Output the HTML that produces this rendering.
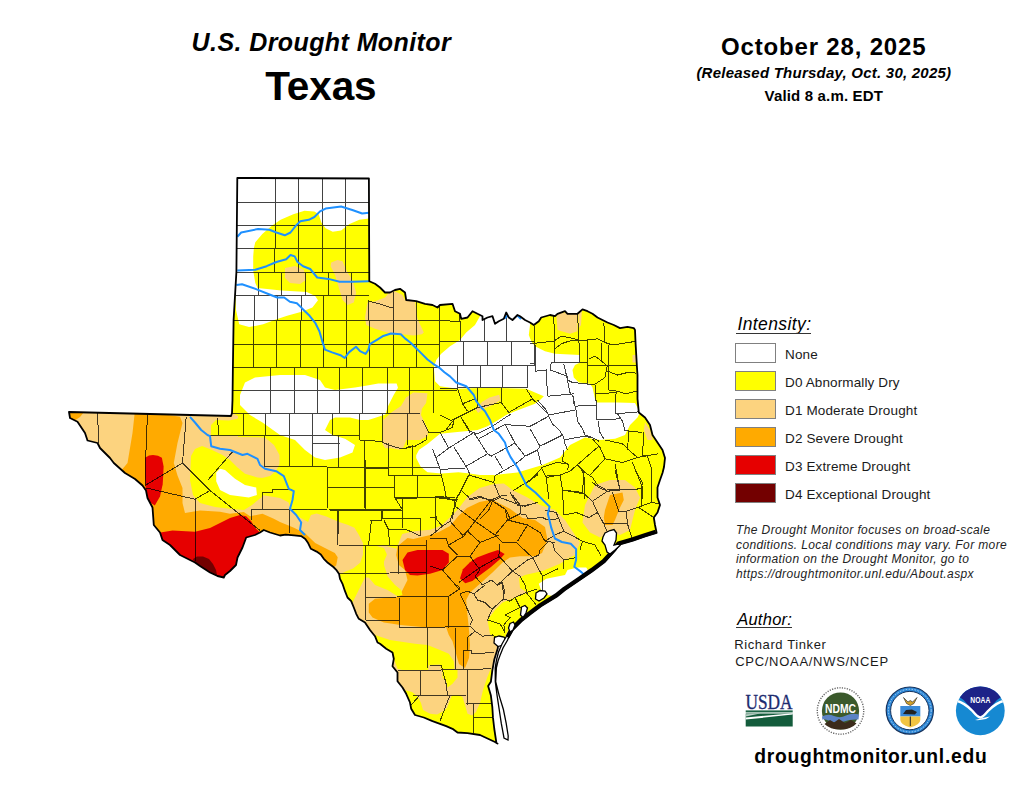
<!DOCTYPE html>
<html><head><meta charset="utf-8">
<style>
html,body{margin:0;padding:0;background:#fff;}
body{width:1024px;height:791px;position:relative;overflow:hidden;font-family:"Liberation Sans",Arial,sans-serif;color:#000;}
.t{position:absolute;white-space:nowrap;line-height:1;}
#h1{left:191.60px;top:30px;font-size:25px;font-weight:bold;font-style:italic;letter-spacing:0.41px;}
#h2{left:265.20px;top:65.5px;font-size:40.5px;font-weight:bold;letter-spacing:-0.10px;}
#d1{left:721.00px;top:34.5px;font-size:24px;font-weight:bold;letter-spacing:0.83px;}
#d2{left:696.40px;top:65.4px;font-size:15px;font-weight:bold;font-style:italic;letter-spacing:0.23px;}
#d3{left:764.60px;top:87.6px;font-size:15px;font-weight:bold;letter-spacing:0.16px;}
.lg{position:absolute;left:735px;width:39px;height:18px;border:1px solid #808080;}
.ll{position:absolute;left:785.00px;font-size:13.5px;color:#1a1a1a;letter-spacing:0.13px;}
#int{left:737.40px;top:315.5px;font-size:17.5px;font-style:italic;letter-spacing:0.40px;}
#int::after,#auth::after{content:"";position:absolute;left:-1px;right:0;height:1.4px;background:#333;}
#int::after{top:17.5px;}
#auth::after{top:15.8px;}
#auth{left:737.20px;top:610.9px;font-size:16.5px;font-style:italic;letter-spacing:0.25px;}
.ds{left:736.00px;font-size:12px;font-style:italic;color:#222;}
#rt{left:734.20px;top:637.5px;font-size:13px;color:#1a1a1a;letter-spacing:0.60px;}
#cpc{left:735.20px;top:655.4px;font-size:13px;color:#1a1a1a;letter-spacing:0.71px;}
#url{left:754.20px;top:746.8px;font-size:19.3px;font-weight:bold;letter-spacing:0.72px;}
</style></head><body>
<div class="t" id="h1">U.S. Drought Monitor</div>
<div class="t" id="h2">Texas</div>
<div class="t" id="d1">October 28, 2025</div>
<div class="t" id="d2">(Released Thursday, Oct. 30, 2025)</div>
<div class="t" id="d3">Valid 8 a.m. EDT</div>
<svg width="1024" height="791" viewBox="0 0 1024 791" style="position:absolute;left:0;top:0">
<defs><clipPath id="tx"><polygon points="237.3,177.9 368.9,178.5 369.3,281.2 375.0,283.8 380.0,287.5 385.0,292.5 390.0,292.5 395.0,290.0 400.0,288.8 405.0,292.5 406.2,300.0 416.2,301.2 425.0,303.8 432.5,305.0 437.5,307.5 440.0,305.0 452.5,303.8 455.0,311.2 460.0,313.8 461.2,318.8 467.5,317.5 472.5,311.2 477.5,313.8 482.5,316.2 482.5,320.0 487.5,317.5 492.5,316.2 495.0,323.8 498.8,321.2 503.8,318.8 506.2,312.5 508.8,317.5 512.5,320.0 517.5,315.0 520.0,316.2 525.0,320.0 530.0,322.5 533.8,325.0 538.8,321.2 541.2,317.5 550.0,315.0 555.0,316.2 557.5,313.8 565.0,311.2 567.5,313.8 577.5,313.8 582.5,309.4 587.5,311.2 592.5,313.8 597.5,317.5 602.5,320.0 607.5,322.5 613.8,325.0 620.0,328.1 627.5,326.9 633.8,328.1 635.0,330.0 635.6,343.8 636.9,366.2 637.5,375.0 637.5,398.9 638.8,412.5 645.0,417.5 650.0,425.0 652.5,435.0 657.5,442.5 662.5,450.0 665.0,458.0 664.0,467.0 662.5,473.0 660.0,480.0 657.5,487.5 657.5,497.5 660.0,505.0 657.5,512.5 653.8,517.5 655.0,525.0 656.6,532.8 645.0,536.5 633.0,540.6 619.2,544.6 615.2,550.5 604.4,562.3 592.5,571.2 579.7,580.1 565.0,590.0 557.0,596.5 541.0,606.3 530.4,614.2 521.5,621.3 512.7,630.2 508.3,638.1 502.5,640.5 498.0,645.0 497.8,648.3 494.3,659.5 492.3,670.6 490.9,681.7 488.1,685.9 490.9,695.6 492.3,706.8 493.0,717.9 494.3,729.0 496.4,742.9 497.5,743.5 495.0,742.0 487.5,738.5 480.0,735.0 467.5,733.1 457.5,732.5 452.5,728.8 446.2,726.2 440.0,723.8 432.5,721.2 423.8,717.5 415.0,715.0 411.2,708.8 410.0,702.5 406.2,693.8 402.5,687.5 397.5,681.2 397.5,672.5 392.5,666.2 393.8,658.8 392.5,652.5 386.2,648.8 380.0,643.8 377.5,642.5 375.0,636.2 370.0,630.0 365.0,622.5 358.8,618.8 356.2,613.8 353.8,607.5 351.2,601.2 347.5,597.5 345.0,591.2 342.5,583.8 340.0,578.8 339.1,574.1 336.2,569.8 333.4,567.0 327.8,562.8 323.6,558.6 320.8,554.4 316.6,551.6 310.9,548.8 308.1,543.1 305.3,538.9 301.1,536.1 294.1,535.4 285.6,534.7 280.0,535.5 270.0,532.5 263.8,530.0 260.0,532.5 255.0,535.0 246.2,537.5 242.5,547.5 237.5,557.5 236.0,565.0 230.0,571.0 225.0,575.0 223.8,577.5 217.5,576.0 210.0,572.5 200.0,566.0 195.0,562.5 190.0,560.0 180.0,555.0 175.0,550.0 170.0,545.0 162.5,540.0 160.0,532.5 153.8,525.0 152.5,507.5 147.5,498.0 146.0,490.5 142.5,485.5 135.0,479.0 125.0,473.0 113.8,463.0 110.0,458.0 100.0,448.0 97.5,443.0 87.5,440.5 85.0,433.0 77.5,421.8 70.0,418.0 69.0,412.0 150.0,414.0 231.0,416.0 232.0,413.0 232.5,400.0 232.9,367.0 233.6,320.0 235.0,296.0 236.4,272.0 237.3,177.9"/></clipPath></defs>
<polygon points="237.3,177.9 368.9,178.5 369.3,281.2 375.0,283.8 380.0,287.5 385.0,292.5 390.0,292.5 395.0,290.0 400.0,288.8 405.0,292.5 406.2,300.0 416.2,301.2 425.0,303.8 432.5,305.0 437.5,307.5 440.0,305.0 452.5,303.8 455.0,311.2 460.0,313.8 461.2,318.8 467.5,317.5 472.5,311.2 477.5,313.8 482.5,316.2 482.5,320.0 487.5,317.5 492.5,316.2 495.0,323.8 498.8,321.2 503.8,318.8 506.2,312.5 508.8,317.5 512.5,320.0 517.5,315.0 520.0,316.2 525.0,320.0 530.0,322.5 533.8,325.0 538.8,321.2 541.2,317.5 550.0,315.0 555.0,316.2 557.5,313.8 565.0,311.2 567.5,313.8 577.5,313.8 582.5,309.4 587.5,311.2 592.5,313.8 597.5,317.5 602.5,320.0 607.5,322.5 613.8,325.0 620.0,328.1 627.5,326.9 633.8,328.1 635.0,330.0 635.6,343.8 636.9,366.2 637.5,375.0 637.5,398.9 638.8,412.5 645.0,417.5 650.0,425.0 652.5,435.0 657.5,442.5 662.5,450.0 665.0,458.0 664.0,467.0 662.5,473.0 660.0,480.0 657.5,487.5 657.5,497.5 660.0,505.0 657.5,512.5 653.8,517.5 655.0,525.0 656.6,532.8 645.0,536.5 633.0,540.6 619.2,544.6 615.2,550.5 604.4,562.3 592.5,571.2 579.7,580.1 565.0,590.0 557.0,596.5 541.0,606.3 530.4,614.2 521.5,621.3 512.7,630.2 508.3,638.1 502.5,640.5 498.0,645.0 497.8,648.3 494.3,659.5 492.3,670.6 490.9,681.7 488.1,685.9 490.9,695.6 492.3,706.8 493.0,717.9 494.3,729.0 496.4,742.9 497.5,743.5 495.0,742.0 487.5,738.5 480.0,735.0 467.5,733.1 457.5,732.5 452.5,728.8 446.2,726.2 440.0,723.8 432.5,721.2 423.8,717.5 415.0,715.0 411.2,708.8 410.0,702.5 406.2,693.8 402.5,687.5 397.5,681.2 397.5,672.5 392.5,666.2 393.8,658.8 392.5,652.5 386.2,648.8 380.0,643.8 377.5,642.5 375.0,636.2 370.0,630.0 365.0,622.5 358.8,618.8 356.2,613.8 353.8,607.5 351.2,601.2 347.5,597.5 345.0,591.2 342.5,583.8 340.0,578.8 339.1,574.1 336.2,569.8 333.4,567.0 327.8,562.8 323.6,558.6 320.8,554.4 316.6,551.6 310.9,548.8 308.1,543.1 305.3,538.9 301.1,536.1 294.1,535.4 285.6,534.7 280.0,535.5 270.0,532.5 263.8,530.0 260.0,532.5 255.0,535.0 246.2,537.5 242.5,547.5 237.5,557.5 236.0,565.0 230.0,571.0 225.0,575.0 223.8,577.5 217.5,576.0 210.0,572.5 200.0,566.0 195.0,562.5 190.0,560.0 180.0,555.0 175.0,550.0 170.0,545.0 162.5,540.0 160.0,532.5 153.8,525.0 152.5,507.5 147.5,498.0 146.0,490.5 142.5,485.5 135.0,479.0 125.0,473.0 113.8,463.0 110.0,458.0 100.0,448.0 97.5,443.0 87.5,440.5 85.0,433.0 77.5,421.8 70.0,418.0 69.0,412.0 150.0,414.0 231.0,416.0 232.0,413.0 232.5,400.0 232.9,367.0 233.6,320.0 235.0,296.0 236.4,272.0 237.3,177.9" fill="#ffff00" />
<g clip-path="url(#tx)">
<polygon points="60.0,405.0 232.0,413.0 238.0,416.0 238.0,437.0 265.0,437.5 274.0,445.0 279.5,455.0 279.5,464.0 276.0,471.0 270.0,476.0 262.0,478.0 262.0,495.0 280.0,498.0 288.4,502.3 291.2,509.4 298.3,516.4 308.1,522.0 310.9,515.0 316.6,513.6 326.4,516.4 339.1,522.0 347.5,524.8 354.5,527.7 358.8,534.7 363.0,543.1 363.0,554.4 360.2,562.8 353.1,568.4 346.1,571.2 340.5,574.1 340.0,600.0 100.0,600.0 60.0,450.0" fill="#fcd37f" />
<polygon points="370.0,548.0 383.0,545.0 396.7,548.8 399.4,541.0 402.2,534.0 413.4,531.2 430.3,529.8 441.6,525.6 450.0,517.2 458.4,508.8 466.9,497.5 479.5,488.0 493.6,484.0 503.9,483.4 512.5,490.0 527.5,497.5 540.0,505.0 555.0,510.0 565.0,520.0 575.0,535.0 580.0,542.5 575.0,555.0 565.0,560.0 555.0,570.0 545.0,577.8 535.0,585.0 525.0,595.0 515.0,605.0 505.0,615.0 520.0,640.0 520.0,760.0 350.0,700.0 330.0,580.0 350.0,560.0" fill="#fcd37f" />
<polygon points="585.0,505.0 595.0,485.0 610.0,480.0 625.0,480.0 635.0,487.5 640.0,497.5 635.0,510.0 632.5,520.0 630.0,530.0 620.0,535.0 610.0,532.5 600.0,537.5 590.0,532.5 582.5,522.5" fill="#fcd37f" />
<polygon points="645.0,422.5 650.0,430.0 653.0,440.0 647.5,440.0 643.8,430.0" fill="#fcd37f" />
<polygon points="285.0,268.0 295.0,266.0 304.0,270.0 306.0,280.0 300.0,284.0 290.0,283.0 285.0,278.0" fill="#fcd37f" />
<polygon points="331.2,262.5 337.5,260.0 342.5,261.2 347.5,272.5 352.5,280.0 356.2,292.5 353.8,302.5 347.5,305.0 342.5,300.0 338.8,287.5 335.0,275.0 330.6,266.2" fill="#fcd37f" />
<polygon points="365.0,317.5 367.5,302.5 375.0,301.2 385.0,297.5 390.0,291.2 395.0,291.2 402.5,295.0 405.0,300.0 415.0,301.2 417.5,318.8 423.8,332.5 421.9,334.2 413.4,335.6 402.2,334.2 388.1,332.8 375.0,328.8 366.2,325.0" fill="#fcd37f" />
<polygon points="556.2,313.0 577.5,312.0 577.5,331.2 570.0,333.8 557.5,330.0" fill="#fcd37f" />
<polygon points="578.0,311.0 582.0,309.0 581.0,325.0 579.0,328.0" fill="#fcd37f" />
<polygon points="632.5,355.0 636.0,355.0 636.0,362.5 632.5,362.5" fill="#fcd37f" />
<polygon points="383.0,420.0 392.0,412.0 401.0,406.0 406.0,397.5 413.4,392.6 427.5,393.3 426.1,403.1 421.9,408.8 421.0,415.0 427.5,428.4 428.0,436.0 420.0,440.0 406.4,440.0 403.6,446.9 399.4,449.7 390.9,448.3 385.3,448.3 382.5,444.1" fill="#fcd37f" />
<polygon points="475.3,408.8 482.3,401.7 489.4,397.5 499.2,394.7 500.6,400.3 493.6,404.5 483.8,408.8 478.1,413.0" fill="#fcd37f" />
<polygon points="60.0,405.0 84.0,412.0 80.0,417.0 74.0,421.0 66.0,420.0" fill="#ffaa00" />
<polygon points="135.0,410.0 180.0,416.8 182.5,423.0 177.5,443.0 173.8,463.0 177.5,475.5 182.5,488.0 182.5,503.0 185.0,513.0 200.0,510.5 220.0,511.8 230.0,513.8 243.8,511.9 250.0,516.2 262.5,513.8 273.8,518.8 280.0,522.0 294.0,527.7 305.0,533.3 315.2,543.1 326.4,548.8 334.8,553.0 337.7,557.2 336.2,565.6 333.4,567.0 320.0,580.0 150.0,560.0 120.0,472.0 127.5,463.0 132.5,433.0" fill="#ffaa00" />
<polygon points="397.5,546.2 407.5,538.0 413.4,539.0 430.3,535.0 438.8,532.0 450.0,526.0 458.4,516.0 466.9,508.0 479.5,502.0 492.2,499.5 500.0,503.8 510.0,508.8 522.5,518.0 535.0,520.0 545.0,527.0 547.5,540.0 542.0,553.0 535.0,556.2 520.0,556.2 510.0,557.5 502.5,562.5 492.5,572.5 480.0,583.8 470.0,592.5 466.2,600.0 467.5,615.0 469.0,630.0 470.0,645.0 469.0,658.0 465.0,668.0 459.0,664.0 457.5,658.9 452.5,641.2 448.8,635.0 446.2,627.5 427.5,627.5 400.0,625.0 392.5,623.8 383.8,622.5 372.5,617.5 368.8,612.5 368.8,603.8 375.0,598.8 390.0,597.5 398.8,597.0 402.5,590.0 407.5,580.0 405.0,570.0 398.8,565.0 396.2,555.0" fill="#ffaa00" />
<polygon points="605.0,510.0 610.0,495.0 622.5,492.5 623.8,500.0 620.0,507.5 615.0,520.0 612.5,525.0 605.0,525.0 603.8,517.5" fill="#ffaa00" />
<polygon points="145.0,457.7 149.0,455.5 153.0,455.0 158.0,455.8 161.9,457.7 163.6,466.5 163.2,476.0 162.7,484.2 160.0,496.6 154.8,505.5 149.5,502.0 145.9,493.0 145.0,475.4" fill="#e60000" />
<polygon points="157.5,533.0 172.5,530.5 195.0,531.8 210.0,528.0 230.0,518.0 240.0,515.0 246.2,516.2 251.2,521.2 255.0,527.5 260.0,532.5 262.0,545.0 240.0,590.0 160.0,560.0 150.0,540.0" fill="#e60000" />
<polygon points="402.5,560.0 407.5,552.5 417.5,550.0 430.0,550.0 442.5,550.0 448.8,553.8 448.8,562.5 442.5,570.0 430.0,573.8 417.5,575.5 410.0,575.0 405.0,570.0" fill="#e60000" />
<polygon points="460.0,578.6 462.9,569.3 470.0,562.3 477.0,557.6 488.8,552.9 498.0,550.0 504.6,554.0 500.4,558.7 491.0,566.9 481.6,574.0 472.3,581.0 465.3,583.3" fill="#e60000" />
<polygon points="193.0,559.0 197.0,556.5 203.0,556.5 209.0,559.0 213.0,564.0 216.0,570.0 218.0,580.0 205.0,574.0 195.0,564.0" fill="#730000" />
<polygon points="211.0,425.0 216.0,420.0 229.0,420.6 237.5,418.8 240.0,413.8 245.0,413.8 245.0,436.0 211.0,435.6" fill="#ffff00" />
<polygon points="191.0,456.0 195.0,449.0 202.0,446.0 211.0,449.5 222.5,455.0 230.0,460.0 237.5,467.5 245.0,473.8 257.5,477.5 263.0,478.0 263.0,496.0 252.0,505.0 244.0,510.0 232.0,509.0 215.0,507.0 200.0,503.0 193.0,495.0 190.0,480.0" fill="#ffff00" />
<polygon points="340.5,574.1 346.1,571.2 353.1,568.4 360.2,562.8 363.0,554.4 363.0,546.0 372.0,545.0 384.0,548.0 386.9,554.4 384.0,561.4 384.0,565.0 387.5,576.2 395.0,585.0 401.2,590.0 402.5,595.0 397.5,596.2 387.5,590.0 375.0,585.0 368.8,577.5 365.0,577.5 361.2,585.0 355.0,597.5 352.5,602.5 347.5,597.5 342.5,583.8 330.0,578.8" fill="#ffff00" />
<polygon points="372.0,634.0 390.0,640.0 415.0,643.8 427.5,645.0 440.0,650.0 448.8,653.8 453.8,661.2 454.4,668.8 441.2,669.4 440.0,664.4 428.8,665.0 428.1,670.0 402.5,670.0 397.5,668.8 393.8,658.8 392.5,652.5 386.2,648.8 380.0,643.8" fill="#ffff00" />
<polygon points="442.5,670.0 457.5,670.0 457.5,677.5 452.5,683.8 447.5,687.5 446.2,681.2 442.5,677.5" fill="#ffff00" />
<polygon points="404.0,690.0 412.0,692.0 418.0,697.0 421.0,703.0 423.0,710.0 430.0,713.8 437.0,714.5 442.0,712.0 447.0,708.0 450.0,700.0 452.0,695.6 458.0,695.0 462.5,697.0 465.0,705.0 467.5,713.8 472.0,715.5 476.0,712.0 480.0,703.0 483.0,690.0 487.0,678.0 491.0,668.0 494.0,700.0 505.0,750.0 380.0,750.0" fill="#ffff00" />
<polygon points="520.0,588.0 519.0,578.0 525.0,575.0 542.5,571.0 560.0,563.8 571.0,557.5 577.5,560.0 580.0,575.0 560.0,592.0 540.0,605.0 527.5,611.2 515.0,620.0 508.8,629.0 505.0,637.0 497.0,640.0 490.0,634.0 487.5,620.0 495.0,610.0 502.5,602.5 515.0,597.5 527.5,592.5" fill="#ffff00" />
<polygon points="237.3,177.9 368.9,177.9 368.9,218.4 359.4,219.8 349.5,224.0 341.1,230.4 332.7,231.8 325.6,228.3 321.4,222.6 318.6,214.2 314.4,211.4 304.5,210.7 293.3,214.2 280.6,219.8 272.2,225.4 262.3,233.9 255.3,242.3 253.9,248.0 253.2,256.4 253.2,270.4 255.3,283.0 257.5,288.0 281.4,290.5 306.8,291.9 315.2,296.1 318.0,300.3 312.4,307.4 302.5,311.6 287.1,315.8 274.4,320.0 263.2,324.3 249.1,327.1 239.2,324.3 236.0,310.0 235.5,296.0 236.4,272.0" fill="#ffffff" />
<polygon points="240.0,395.0 245.0,382.5 255.0,377.5 280.0,375.0 305.0,375.0 320.0,380.0 325.0,387.5 335.0,390.0 355.0,387.5 370.0,385.0 378.3,383.4 396.6,383.4 398.0,387.7 393.8,394.7 388.1,405.9 385.3,414.4 376.9,417.2 368.4,420.0 360.0,420.0 350.0,417.5 335.0,417.5 330.0,420.0 325.0,430.0 332.5,435.0 345.0,438.8 355.0,445.0 352.5,452.5 340.0,457.5 325.0,460.0 315.0,457.5 305.0,450.0 295.0,440.0 280.0,435.0 262.5,422.5 250.0,415.0 240.0,405.0" fill="#ffffff" />
<polygon points="216.2,472.5 220.0,468.8 225.0,470.0 235.0,478.8 245.0,485.0 256.2,487.5 256.9,495.0 248.8,497.5 230.0,495.0 220.0,490.0 216.2,481.2" fill="#ffffff" />
<polygon points="481.2,314.0 531.0,314.0 530.0,325.0 528.8,335.0 531.2,341.2 535.0,346.2 545.0,351.2 555.0,353.8 580.0,355.0 580.0,362.5 575.0,365.0 572.5,370.0 573.8,377.5 578.8,382.5 590.0,383.8 592.5,387.5 595.0,399.0 597.0,402.5 617.5,402.5 635.0,403.0 640.0,412.5 637.5,417.5 630.0,425.0 625.0,435.0 615.0,438.8 600.0,440.0 585.0,437.5 570.0,445.0 560.0,457.5 542.5,465.0 517.5,472.5 495.0,475.0 480.0,475.0 469.7,473.6 458.4,472.2 441.6,473.6 427.5,472.2 420.5,466.6 416.2,458.1 416.2,455.3 419.1,449.7 427.5,444.1 440.0,433.8 452.5,432.5 465.0,431.2 477.5,430.0 487.5,426.2 496.2,421.2 506.2,415.0 515.0,411.2 525.0,407.5 535.0,403.8 540.0,400.0 543.8,396.2 535.0,392.5 526.2,388.8 501.2,388.1 477.5,388.1 457.5,388.8 440.0,386.2 435.0,381.2 433.8,367.5 436.2,360.0 441.2,353.8 450.0,346.2 460.0,340.0 466.2,332.5 475.0,325.0" fill="#ffffff" />
<polygon points="538.8,583.8 546.2,578.8 565.0,575.0 567.5,570.0 577.5,567.5 586.2,567.5 590.0,573.8 592.0,578.0 577.5,584.0 565.0,590.0 552.5,596.0 542.5,594.0" fill="#ffffff" />
<path d="M237.0 202.2 L369.0 202.2 M237.0 225.6 L369.0 225.6 M237.0 248.6 L369.0 248.6 M236.4 272.1 L369.3 272.1 M235.5 295.4 L369.3 295.4 M275.7 177.9 L275.7 202.2 M298.9 177.9 L298.9 202.2 M322.4 177.9 L322.4 202.2 M345.6 177.9 L345.6 202.2 M275.7 202.2 L275.7 225.6 M298.9 202.2 L298.9 225.6 M322.4 202.2 L322.4 225.6 M345.6 202.2 L345.6 225.6 M275.7 225.6 L275.7 248.6 M298.9 225.6 L298.9 248.6 M322.4 225.6 L322.4 248.6 M345.6 225.6 L345.6 248.6 M274.0 248.6 L274.0 272.1 M298.8 248.6 L298.8 272.1 M322.0 248.6 L322.0 272.1 M345.7 248.6 L345.7 272.1 M258.1 272.1 L258.1 295.4 M281.3 272.1 L281.3 295.4 M305.2 272.1 L305.2 295.4 M328.4 272.1 L328.4 295.4 M351.6 272.1 L351.6 295.4 M254.0 295.4 L254.0 320.5 M277.2 295.4 L277.2 320.5 M301.1 295.4 L301.1 320.5 M323.6 295.4 L323.6 320.5 M346.8 295.4 L346.8 320.5 M368.0 300.0 L368.0 320.5 M393.0 292.0 L393.0 320.5 M416.2 301.0 L416.2 320.5 M439.4 305.0 L439.4 320.5 M459.5 313.0 L459.5 320.5 M368.8 301.2 L380.0 304.0 L392.5 308.0 M234.0 320.5 L440.0 320.5 M440.0 320.5 L460.0 321.5 M253.3 320.5 L253.3 344.0 M276.5 320.5 L276.5 344.0 M300.4 320.5 L300.4 344.0 M323.6 320.5 L323.6 344.0 M346.8 320.5 L346.8 344.0 M369.8 320.5 L369.8 344.0 M393.0 320.5 L393.0 344.0 M416.3 320.5 L416.3 344.0 M439.5 320.5 L439.5 344.0 M460.0 320.5 L460.0 342.0 M484.0 318.0 L484.0 342.0 M506.0 316.0 L506.0 342.0 M233.6 344.0 L440.0 344.0 M440.0 341.5 L535.0 341.5 M253.5 344.0 L253.5 367.2 M276.5 344.0 L276.5 367.2 M300.0 344.0 L300.0 367.2 M323.0 344.0 L323.0 367.2 M346.5 344.0 L346.5 367.2 M369.8 344.0 L369.8 367.2 M393.5 344.0 L393.5 367.2 M416.3 344.0 L416.3 367.2 M439.5 344.0 L439.5 367.2 M463.5 341.5 L463.5 365.0 M487.5 341.5 L487.5 365.0 M511.0 341.5 L511.0 365.0 M534.0 326.0 L534.0 365.0 M233.0 367.2 L440.0 367.2 M440.0 365.0 L535.0 365.0 M270.8 367.2 L270.8 413.0 M294.5 367.2 L294.5 413.0 M317.0 367.2 L317.0 413.0 M339.5 367.2 L339.5 413.0 M362.0 367.2 L362.0 413.0 M387.0 367.2 L387.0 413.0 M409.5 367.2 L409.5 413.0 M433.8 367.2 L433.8 413.0 M457.0 365.0 L457.0 388.0 M480.2 365.0 L480.2 388.0 M502.7 365.0 L502.7 388.0 M527.5 365.0 L527.5 388.0 M232.5 390.5 L457.0 390.5 M457.0 387.5 L528.0 387.5 M232.0 413.0 L419.5 413.0 M243.2 413.0 L243.2 435.5 M289.5 413.0 L289.5 435.5 M312.0 413.0 L312.0 435.5 M265.8 413.0 L265.8 435.5 M332.0 413.0 L332.0 435.5 M359.5 413.0 L359.5 440.0 M382.0 413.0 L382.0 443.0 M407.0 413.0 L407.0 445.0 M232.0 435.5 L359.5 435.5 M312.0 443.0 L339.5 443.0 M359.5 440.0 L382.0 441.5 M264.5 435.5 L264.5 466.8 M289.5 413.0 L289.5 466.8 M312.0 435.5 L312.0 466.8 M338.2 435.5 L338.2 466.8 M364.5 440.0 L364.5 508.0 M388.2 443.0 L388.2 475.5 M412.0 445.0 L412.0 475.5 M265.0 466.8 L327.0 466.8 M327.0 467.5 L364.5 467.5 M364.5 468.0 L388.0 468.0 M388.0 475.5 L412.0 476.0 M412.0 476.0 L442.0 475.5 M327.0 466.8 L327.0 508.0 M327.0 488.0 L364.5 487.5 M364.5 487.5 L394.5 487.5 M394.5 475.5 L394.5 498.0 M417.0 475.5 L417.0 498.0 M394.5 498.0 L417.0 498.0 M417.0 498.0 L444.0 496.5 M289.5 509.0 L327.0 509.0 M327.0 509.0 L382.0 509.5 M382.0 509.5 L402.0 509.0 M338.2 509.0 L338.2 534.0 M382.0 509.5 L382.0 518.0 M382.0 518.0 L420.0 518.0 M402.0 509.0 L403.0 528.0 M395.0 498.0 L402.0 509.0 M97.5 413.0 L98.8 443.0 M147.5 414.2 L146.2 443.0 L145.0 485.5 M186.2 416.8 L182.5 463.0 M145.0 485.5 L182.5 463.0 M182.5 463.0 L210.0 490.5 L260.0 530.5 M146.2 488.0 L195.0 499.2 M195.0 499.2 L195.0 560.5 M195.0 499.2 L210.0 490.5 M207.5 480.5 L232.5 451.8 M217.5 418.0 L218.8 435.5 M210.0 435.5 L267.5 435.5 M262.2 492.5 L272.0 492.5 L272.0 489.7 L291.5 489.7 M262.2 492.5 L262.2 509.2 L251.1 509.2 L251.1 520.3 M262.2 509.2 L290.0 509.2 M289.5 509.0 L289.5 533.0 M330.0 467.5 L440.0 467.5 M365.0 460.0 L365.0 510.0 M395.0 497.5 L455.0 497.5 M330.0 510.0 L402.5 510.0 M337.5 510.0 L337.5 545.0 M370.0 520.6 L381.2 520.6 M381.2 510.0 L381.2 520.6 M371.4 520.6 L368.6 545.0 M384.0 520.6 L388.3 529.0 L389.7 545.0 M388.3 529.8 L405.2 529.0 L420.6 536.1 M420.6 517.8 L420.6 536.1 M402.5 497.5 L402.5 509.4 M435.0 497.5 L435.0 532.5 M337.5 545.0 L426.0 546.0 M365.0 545.0 L365.0 620.0 M330.0 573.8 L427.5 572.5 M398.0 545.0 L398.0 573.8 M426.5 540.0 L426.5 627.5 M399.0 597.5 L399.0 627.5 M365.0 620.0 L400.0 621.0 M427.5 627.5 L427.5 667.5 M420.0 670.0 L420.0 695.0 M441.2 665.0 L442.5 670.0 L446.2 685.0 L447.5 695.0 M412.5 695.0 L466.2 695.0 M450.0 695.0 L440.0 721.2 M420.0 695.0 L411.2 705.0 M466.2 703.8 L491.0 703.8 M473.8 703.8 L473.8 732.5 M473.8 717.5 L493.0 717.5 M440.0 388.0 L457.5 388.8 M457.5 388.8 L462.5 403.8 L467.5 411.2 M462.5 403.8 L475.0 398.8 M477.5 388.1 L477.5 407.5 M501.2 388.1 L501.2 402.5 L508.8 412.5 M477.5 407.5 L501.2 402.5 M508.8 412.5 L532.5 398.8 M526.2 388.8 L532.5 398.8 L548.8 415.0 M452.5 420.0 L477.5 407.5 M440.0 415.0 L452.5 421.2 L445.0 431.2 M461.2 417.5 L470.0 431.2 M470.0 431.2 L477.5 433.8 L492.5 426.2 L511.2 413.8 M422.5 420.0 L428.8 432.5 M428.8 432.5 L440.0 432.5 L452.5 427.5 L453.8 420.0 M426.2 435.0 L426.2 440.0 L413.8 446.9 L408.0 447.0 M440.0 432.5 L448.8 448.1 M436.2 457.5 L448.8 448.1 L473.8 432.5 M473.8 432.5 L487.5 453.8 L491.2 456.2 M453.8 446.9 L467.5 468.8 L470.0 475.0 M466.2 466.2 L487.5 453.8 M478.8 438.8 L505.0 424.4 L517.5 425.6 L530.0 426.2 L537.9 422.5 M505.0 424.4 L515.0 443.1 L525.0 456.2 M491.2 456.2 L515.0 443.1 M495.0 456.2 L502.5 468.8 M495.0 475.6 L515.0 464.4 L525.0 456.2 L537.9 450.0 M462.5 420.0 L470.0 432.5 M440.6 469.4 L465.0 468.1 M468.8 475.0 L493.8 482.5 L495.0 475.6 M468.8 475.0 L463.8 485.0 L458.8 495.0 L455.0 501.2 L452.5 518.9 M432.5 448.8 L440.0 468.8 L441.2 475.0 L443.8 485.0 L446.2 497.5 L455.0 501.2 M410.0 475.0 L441.2 475.0 M417.5 475.0 L417.5 497.5 M410.0 498.1 L435.0 497.5 L455.0 500.0 M435.0 497.5 L436.2 518.9 M493.8 482.5 L500.0 497.5 L522.5 506.2 L537.9 502.5 M500.0 497.5 L492.5 501.2 L488.8 510.0 L480.0 518.9 M461.2 490.0 L470.0 498.8 L480.0 496.2 L491.2 501.2 M510.0 492.5 L517.5 505.0 L522.5 506.2 M492.5 501.2 L506.2 510.0 L510.0 518.9 M512.5 491.2 L537.9 475.0 M526.2 483.8 L537.9 473.8 M537.5 400.0 L546.2 410.0 L548.8 416.2 L552.5 423.8 L560.0 431.2 L563.8 437.5 L565.0 443.8 L567.5 450.0 M548.8 415.0 L575.0 410.0 M573.8 400.0 L576.2 411.2 L577.5 421.2 L582.5 428.8 L585.0 435.0 L592.5 437.5 L598.8 441.2 M575.0 406.2 L596.2 405.0 M596.2 400.0 L596.9 420.0 M596.9 420.0 L620.0 418.8 M615.0 400.0 L615.0 413.8 L638.8 411.9 M617.5 413.8 L622.5 421.2 L625.0 431.2 M598.1 421.2 L600.0 432.5 L603.8 438.8 M625.0 430.6 L642.5 432.5 M530.0 426.2 L548.8 416.2 M530.0 428.8 L540.0 446.2 L537.5 450.0 L541.2 465.0 M540.0 446.2 L562.5 435.0 M530.0 453.8 L537.5 450.0 M563.8 440.0 L583.8 436.2 L591.2 437.5 M592.5 438.8 L600.0 447.5 L605.0 458.8 M598.8 446.2 L580.0 462.5 L570.0 471.2 M605.0 440.0 L622.5 443.8 L628.8 450.0 L637.5 457.5 L657.9 453.8 M605.0 458.8 L622.5 462.5 L637.5 457.5 M628.8 431.2 L627.5 450.0 M643.8 432.5 L642.5 455.0 L647.5 456.2 L651.2 467.5 L651.2 499.0 M563.8 450.0 L562.5 461.2 L568.8 465.0 L567.5 470.0 M541.2 467.5 L556.2 462.5 L567.5 463.8 M541.2 467.5 L546.2 477.5 L547.5 487.5 L548.8 499.0 M541.2 468.8 L530.0 480.0 M546.2 477.5 L560.0 475.0 L570.0 471.2 M560.0 475.0 L562.5 490.0 L583.8 493.8 M577.5 465.0 L585.0 472.5 L592.5 477.5 L597.5 485.0 L606.2 490.0 M583.8 472.5 L585.0 499.0 M590.0 475.0 L605.0 458.8 M615.0 463.8 L620.0 490.0 M632.5 462.5 L642.5 487.5 L642.5 499.0 M607.5 490.0 L642.5 488.8 M553.8 315.0 L555.0 362.5 M577.5 312.5 L580.0 362.5 M603.8 322.5 L605.0 342.5 M530.0 343.8 L553.8 341.2 L561.2 336.2 L568.8 337.5 L578.8 340.0 L587.5 340.0 L597.5 338.8 L605.0 342.5 L612.5 345.0 L620.0 343.8 L628.8 342.5 L636.0 341.2 M555.0 348.8 L561.2 343.8 L568.8 341.2 L578.8 340.0 M587.5 340.0 L587.5 383.8 M601.2 342.5 L601.2 360.0 L606.2 365.0 M608.8 345.0 L608.8 390.0 M535.0 345.0 L535.0 371.2 L546.2 370.0 L547.5 396.2 M530.0 363.8 L535.0 363.8 M551.2 362.5 L587.5 362.5 M551.2 362.5 L550.0 370.0 L567.5 376.2 L567.5 380.0 L572.5 382.5 L586.2 383.8 L593.8 385.0 L605.0 377.5 L607.5 365.0 M563.8 363.8 L567.5 380.0 M587.5 365.0 L636.5 365.0 M588.8 358.8 L595.0 356.2 L605.0 363.8 M607.5 371.2 L617.5 375.0 L627.5 372.5 L636.5 373.1 M608.8 390.0 L617.5 391.2 L625.0 393.8 L637.0 391.2 M596.2 393.8 L617.5 392.5 M595.0 385.0 L596.2 403.8 M616.2 392.5 L615.0 403.9 M567.5 380.0 L570.0 392.5 L573.8 397.5 L573.8 403.9 M547.5 396.2 L573.8 393.8 M445.0 495.0 L446.2 498.8 L457.5 500.0 M435.0 497.5 L435.0 517.5 M430.0 517.5 L435.0 517.5 L442.5 526.2 M457.5 495.0 L455.0 506.2 L450.0 521.2 L442.5 526.2 L430.0 536.2 M455.0 506.2 L475.0 521.2 L495.0 535.0 L502.5 542.5 L516.2 542.5 M467.5 495.0 L470.0 500.0 L480.0 497.5 L491.2 500.0 L500.0 496.2 L507.5 495.0 M491.2 500.0 L475.0 521.2 L467.5 531.2 L463.8 536.2 M450.0 521.2 L462.5 535.0 L467.5 531.2 L480.0 542.5 L498.8 535.0 M491.2 500.0 L505.0 508.8 L507.5 520.0 L527.5 525.0 L517.5 541.2 M507.5 520.0 L495.0 535.0 M512.5 495.0 L520.0 505.0 L525.0 506.2 L536.2 502.5 M520.0 505.0 L520.0 513.8 L507.5 520.0 M520.0 513.8 L526.2 515.0 L527.5 518.8 L542.5 517.5 L547.5 520.0 L557.9 518.8 M527.5 525.0 L540.0 532.5 L545.0 541.2 L555.0 542.5 M430.0 538.8 L446.2 538.8 L448.8 546.2 L457.5 555.0 M448.8 545.0 L463.8 536.2 M480.0 542.5 L470.0 556.2 L457.5 556.2 M500.0 543.8 L498.8 556.2 L502.5 560.0 L512.5 571.2 L520.0 576.2 L525.0 585.0 L527.5 593.9 M516.2 542.5 L532.5 557.5 L542.5 576.2 L557.9 568.8 M547.5 542.5 L540.0 550.0 L538.8 555.0 L527.5 560.0 L512.5 571.2 M430.0 566.2 L442.5 570.0 L457.5 556.2 M442.5 570.0 L458.8 588.8 M470.0 556.2 L480.0 570.0 L475.0 576.2 L482.5 585.0 M458.8 582.5 L480.0 567.5 L500.0 556.2 M482.5 585.0 L491.2 580.0 L497.5 585.0 L502.5 582.5 L505.0 593.9 M497.5 585.0 L512.5 571.2 M542.5 576.2 L542.5 593.9 M545.0 476.2 L560.0 475.0 L570.0 471.2 M560.0 475.0 L562.5 490.0 L563.8 515.0 M562.5 490.0 L582.5 492.5 L583.8 473.8 L581.2 470.0 M582.5 492.5 L592.5 501.2 L607.5 491.2 M592.5 482.5 L598.8 487.5 L607.5 491.2 L620.0 490.0 L641.2 488.8 M592.5 501.2 L597.5 512.5 L603.8 523.8 L607.5 532.5 M612.5 492.5 L618.8 511.2 L626.2 511.2 L641.2 506.2 M615.0 470.0 L620.0 490.0 M635.0 470.0 L642.5 482.5 L641.2 488.8 L641.2 506.2 M651.2 470.0 L651.2 502.5 M641.2 506.2 L651.2 502.5 L660.0 503.8 M626.2 511.2 L627.5 523.8 L632.5 540.0 M603.8 523.8 L627.5 523.8 M563.8 515.0 L576.2 512.5 L588.8 517.5 L597.5 512.5 M556.2 512.5 L563.8 531.2 M545.0 510.0 L556.2 512.5 M555.0 535.0 L563.8 531.2 L582.5 541.2 L595.0 545.0 M582.5 541.2 L580.0 550.0 M595.0 545.0 L601.2 556.2 M545.0 541.2 L555.0 535.0 M552.5 542.5 L555.0 551.2 L563.8 560.0 L563.8 568.9 M563.8 560.0 L576.2 557.5 M638.8 507.5 L653.8 517.5 M430.0 596.2 L448.8 596.2 M448.8 596.2 L448.8 627.5 M448.8 596.2 L460.0 588.8 L457.5 585.0 M460.0 593.8 L472.5 620.0 L470.0 625.0 M460.0 593.8 L467.5 591.2 L473.8 593.8 L477.5 600.0 L485.0 602.5 L490.0 607.5 L492.5 608.8 M473.8 593.8 L485.0 585.0 M502.5 585.0 L503.8 598.8 L510.0 601.2 L515.0 597.5 L526.2 592.5 L537.5 588.8 M503.8 598.8 L492.5 608.8 L487.5 620.0 M515.0 597.5 L520.0 607.5 L505.0 615.0 L510.0 617.5 L503.8 625.0 L505.0 632.5 M487.5 620.0 L500.0 623.8 L505.0 632.5 M526.2 592.5 L536.2 605.0 M430.0 627.5 L470.0 626.2 M470.0 626.2 L475.0 631.2 L467.5 637.5 L467.5 650.0 M475.0 631.2 L482.5 636.2 L492.5 635.0 L496.2 637.5 M455.0 627.5 L455.0 668.8 M463.8 650.0 L471.2 650.0 L471.2 653.8 L493.8 652.5 M463.8 650.0 L463.8 668.8 M430.0 665.0 L441.2 665.0 L442.5 670.0 L446.2 683.9 M441.2 670.0 L491.2 668.8 M467.5 670.0 L467.5 683.9 M365.0 597.5 L430.0 596.5 M399.0 627.5 L430.0 627.5 M397.5 670.0 L441.2 670.0 M467.0 683.9 L467.0 705.0 M382.5 442.5 L392.0 446.0 L402.0 449.0 L412.5 446.7" fill="none" stroke="#000" stroke-opacity="0.74" stroke-width="1" shape-rendering="crispEdges"/>
<polyline points="502.0,313.0 505.0,318.0 509.0,314.0 513.0,319.0 517.0,315.0 521.0,319.0" fill="none" stroke="#1e90ff" stroke-width="2" stroke-linejoin="round"/>
<polyline points="237.3,236.7 241.2,232.5 258.1,229.0 269.4,229.7 276.4,232.5 284.8,235.3 290.5,232.5 296.1,225.4 300.3,221.2 308.8,219.8 314.4,217.0 320.0,211.4 325.6,208.6 341.1,206.5 352.3,210.0 362.2,213.5 368.9,212.8" fill="none" stroke="#1e90ff" stroke-width="2" stroke-linejoin="round"/>
<polyline points="237.3,270.4 255.3,269.7 266.6,266.2 276.4,262.0 286.2,259.2 290.5,255.0 294.7,256.4 297.5,262.0 303.1,266.2 310.2,269.0 317.2,277.5 328.4,278.9 339.7,281.7 352.3,281.7 369.0,281.2" fill="none" stroke="#1e90ff" stroke-width="2" stroke-linejoin="round"/>
<polyline points="236.4,284.9 242.0,284.2 256.1,289.1 270.2,294.7 277.2,297.5 284.2,297.5 289.9,301.8 296.9,303.2 301.1,307.4 303.9,310.2 309.6,315.8 315.2,322.8 319.4,331.3 322.2,341.1 325.0,349.6 332.1,352.4 340.5,355.2 344.7,358.0 348.9,352.4 356.0,346.8 360.0,351.1 365.6,353.9 368.4,349.7 369.8,344.1 376.9,339.8 382.5,336.3 390.9,333.5 400.8,334.2 405.0,338.4 410.6,342.7 416.2,348.3 421.9,353.9 427.5,359.5 433.1,363.8 438.8,367.3 444.4,372.2 450.0,376.4 456.2,382.5 466.2,386.2 473.8,395.0 476.2,401.2 481.2,407.5 485.0,411.2 490.0,420.0 493.8,430.0 498.8,433.8 505.0,442.5 507.1,450.0 510.6,457.1 517.7,467.7 521.2,474.8 526.5,485.4 535.4,492.5 542.5,499.6 549.6,506.6 547.8,513.7 549.6,520.8 551.3,527.9 554.9,538.5 561.9,542.0 570.8,543.8 576.1,549.1 576.1,559.7 574.3,566.8 581.4,572.1 586.7,577.4" fill="none" stroke="#1e90ff" stroke-width="2" stroke-linejoin="round"/>
<polyline points="190.0,416.9 195.0,422.5 201.2,430.0 207.5,435.0 210.0,436.2 211.2,446.2 220.0,448.8 230.0,450.0 242.5,455.0 247.5,453.8 257.5,458.8 260.0,465.0 265.0,468.8 276.2,471.2 283.8,476.2 288.8,488.8 293.8,491.2 292.5,500.0 290.0,508.8 296.2,515.0 301.2,522.5 300.0,530.0 305.0,535.0" fill="none" stroke="#1e90ff" stroke-width="2" stroke-linejoin="round"/>
</g>
<polygon points="237.3,177.9 368.9,178.5 369.3,281.2 375.0,283.8 380.0,287.5 385.0,292.5 390.0,292.5 395.0,290.0 400.0,288.8 405.0,292.5 406.2,300.0 416.2,301.2 425.0,303.8 432.5,305.0 437.5,307.5 440.0,305.0 452.5,303.8 455.0,311.2 460.0,313.8 461.2,318.8 467.5,317.5 472.5,311.2 477.5,313.8 482.5,316.2 482.5,320.0 487.5,317.5 492.5,316.2 495.0,323.8 498.8,321.2 503.8,318.8 506.2,312.5 508.8,317.5 512.5,320.0 517.5,315.0 520.0,316.2 525.0,320.0 530.0,322.5 533.8,325.0 538.8,321.2 541.2,317.5 550.0,315.0 555.0,316.2 557.5,313.8 565.0,311.2 567.5,313.8 577.5,313.8 582.5,309.4 587.5,311.2 592.5,313.8 597.5,317.5 602.5,320.0 607.5,322.5 613.8,325.0 620.0,328.1 627.5,326.9 633.8,328.1 635.0,330.0 635.6,343.8 636.9,366.2 637.5,375.0 637.5,398.9 638.8,412.5 645.0,417.5 650.0,425.0 652.5,435.0 657.5,442.5 662.5,450.0 665.0,458.0 664.0,467.0 662.5,473.0 660.0,480.0 657.5,487.5 657.5,497.5 660.0,505.0 657.5,512.5 653.8,517.5 655.0,525.0 656.6,532.8 645.0,536.5 633.0,540.6 619.2,544.6 615.2,550.5 604.4,562.3 592.5,571.2 579.7,580.1 565.0,590.0 557.0,596.5 541.0,606.3 530.4,614.2 521.5,621.3 512.7,630.2 508.3,638.1 502.5,640.5 498.0,645.0 497.8,648.3 494.3,659.5 492.3,670.6 490.9,681.7 488.1,685.9 490.9,695.6 492.3,706.8 493.0,717.9 494.3,729.0 496.4,742.9 497.5,743.5 495.0,742.0 487.5,738.5 480.0,735.0 467.5,733.1 457.5,732.5 452.5,728.8 446.2,726.2 440.0,723.8 432.5,721.2 423.8,717.5 415.0,715.0 411.2,708.8 410.0,702.5 406.2,693.8 402.5,687.5 397.5,681.2 397.5,672.5 392.5,666.2 393.8,658.8 392.5,652.5 386.2,648.8 380.0,643.8 377.5,642.5 375.0,636.2 370.0,630.0 365.0,622.5 358.8,618.8 356.2,613.8 353.8,607.5 351.2,601.2 347.5,597.5 345.0,591.2 342.5,583.8 340.0,578.8 339.1,574.1 336.2,569.8 333.4,567.0 327.8,562.8 323.6,558.6 320.8,554.4 316.6,551.6 310.9,548.8 308.1,543.1 305.3,538.9 301.1,536.1 294.1,535.4 285.6,534.7 280.0,535.5 270.0,532.5 263.8,530.0 260.0,532.5 255.0,535.0 246.2,537.5 242.5,547.5 237.5,557.5 236.0,565.0 230.0,571.0 225.0,575.0 223.8,577.5 217.5,576.0 210.0,572.5 200.0,566.0 195.0,562.5 190.0,560.0 180.0,555.0 175.0,550.0 170.0,545.0 162.5,540.0 160.0,532.5 153.8,525.0 152.5,507.5 147.5,498.0 146.0,490.5 142.5,485.5 135.0,479.0 125.0,473.0 113.8,463.0 110.0,458.0 100.0,448.0 97.5,443.0 87.5,440.5 85.0,433.0 77.5,421.8 70.0,418.0 69.0,412.0 150.0,414.0 231.0,416.0 232.0,413.0 232.5,400.0 232.9,367.0 233.6,320.0 235.0,296.0 236.4,272.0 237.3,177.9" fill="none" stroke="#000" stroke-width="1.8" stroke-linejoin="round"/>
<polyline points="656.6,532.8 645.0,536.5 633.0,540.6 619.2,544.6 615.2,550.5 604.4,562.3 592.5,571.2 579.7,580.1 565.0,590.0 557.0,596.5 541.0,606.3 530.4,614.2 521.5,621.3 512.7,630.2 508.3,638.1" fill="none" stroke="#000" stroke-width="4" stroke-linejoin="round" transform="translate(-0.9,-1.2)"/><polygon points="603.0,537.0 605.0,533.0 610.0,530.5 614.0,529.5 616.5,533.0 616.0,540.0 614.0,545.0 618.0,544.0 620.0,545.5 615.0,550.0 610.0,554.0 607.0,552.0 605.0,545.0 602.0,541.0" fill="#fff" stroke="#000" stroke-width="1.3"/><polygon points="536.0,593.0 540.0,590.5 545.0,591.0 547.0,594.0 544.0,598.0 539.0,601.0 535.5,599.0" fill="#fff" stroke="#000" stroke-width="1.3"/><polygon points="521.5,607.0 525.0,605.5 527.5,608.0 526.0,613.0 523.0,617.5 520.5,615.0 521.0,611.0" fill="#fff" stroke="#000" stroke-width="1.3"/><polygon points="510.0,623.5 513.5,622.0 515.0,625.0 513.0,630.0 510.0,632.0 508.5,628.0" fill="#fff" stroke="#000" stroke-width="1.3"/><polygon points="494.5,637.5 499.0,636.0 504.0,637.0 506.0,640.0 503.0,645.0 498.0,646.5 494.0,643.0" fill="#fff" stroke="#000" stroke-width="1.3"/><polygon points="509.0,636.0 507.6,640.0 503.0,648.0 500.6,653.9 498.0,661.0 496.4,667.8 495.7,681.7 499.2,695.6 503.4,709.5 506.2,723.4 508.2,736.0 508.0,740.0 504.0,738.0 503.4,734.6 501.3,723.4 499.2,709.5 497.1,695.6 495.3,681.7 495.2,667.8 496.5,660.0 498.5,652.0 502.0,644.0 506.0,637.0" fill="#fff" stroke="#000" stroke-width="1.3"/>

<g id="usda">
<text x="745.5" y="708.7" font-family="Liberation Serif, serif" font-size="21" fill="#1d2b6f" stroke="#1d2b6f" stroke-width="0.35" textLength="47" lengthAdjust="spacingAndGlyphs">USDA</text>
<rect x="745.7" y="710.4" width="47" height="2" fill="#1c6445"/>
<polygon points="745.7,713.6 792.7,713.6 792.7,726.6 745.7,726.6" fill="#145c3c"/>
<polygon points="745.7,717.5 792.7,713.3 792.7,714.6 745.7,719.6" fill="#ffffff"/>
<polygon points="745.7,714.2 760,713.6 745.7,716.4" fill="#ffffff" opacity="0.7"/>
</g>
<g id="ndmc">
<circle cx="840.5" cy="711" r="23.2" fill="#fff" stroke="#666" stroke-width="1.4" stroke-dasharray="1.2 1.3"/>
<circle cx="840.5" cy="711" r="18.6" fill="#3b5a2c"/>
<path d="M822,716.5 Q828,713.5 834,716 T846,715.5 T859,714.5 L858.5,719.5 Q850,719 844,721.5 T830,721 T822.5,720.5 Z" fill="#5b83c4"/>
<path d="M824.5,724 L830,720 L834,722.5 L839,719 L845,723 L851,720 L856.5,723.5 Q851,729.6 840.5,729.6 Q830,729.6 824.5,724 Z" fill="#3c2c1c"/>
<text x="840.5" y="713.2" font-family="Liberation Sans, sans-serif" font-weight="bold" font-size="12.6" fill="#fff" text-anchor="middle" textLength="31" lengthAdjust="spacingAndGlyphs">NDMC</text>
</g>
<g id="doc">
<circle cx="909.8" cy="710.6" r="23.6" fill="#2b86d6" stroke="#16325c" stroke-width="1.2"/>
<circle cx="909.8" cy="710.6" r="19.2" fill="#fff" stroke="#16325c" stroke-width="1"/>
<circle cx="909.8" cy="710.6" r="21.4" fill="none" stroke="#cfe6fa" stroke-width="0.8" stroke-dasharray="1.5 1.5"/>
<path d="M900.3,706 L920.3,706 L920.3,716.5 L900.3,716.5 Z" fill="#3a8ad8"/>
<path d="M900.3,716.5 L920.3,716.5 L920.3,720 Q920,725 910.3,727.5 Q900.6,725 900.3,720 Z" fill="#f2c443"/>
<path d="M903,714 L906,710 L912,709.5 L917,712 L915,714.5 Z" fill="#222"/>
<path d="M910.3,716.5 L910.3,726" stroke="#222" stroke-width="1"/>
<path d="M903.5,697.5 L908,702 L910.3,700.5 L912.6,702 L917,697.5 L914,703.5 L910.3,705.5 L906.5,703.5 Z" fill="#d1a12b" stroke="#222" stroke-width="0.6"/>
</g>
<g id="noaa">
<clipPath id="noaac"><circle cx="980.3" cy="710.8" r="24.4"/></clipPath>
<circle cx="980.3" cy="710.8" r="24.4" fill="#1689d2"/>
<g clip-path="url(#noaac)">
<path d="M955,686 L1006,686 L1006,695 Q1000,697 997,700 L988,710 Q983,716 980.3,716.5 Q977.6,716 972.6,710 L963.6,700 Q960.6,697 955,695 Z" fill="#1d2388"/>
<path d="M956,700.5 Q965,703 972.5,711 Q977.5,717 980.3,717.6 Q983,717 988,711 Q995.5,703 1004.6,700.5" fill="none" stroke="#fff" stroke-width="2.4"/>
<path d="M975,720 Q983,717.5 990,716.5 L986,719 Q980,720.5 975,720 Z" fill="#fff"/>
</g>
<text x="980.3" y="703.2" font-family="Liberation Sans, sans-serif" font-weight="bold" font-size="8.4" fill="#fff" text-anchor="middle" textLength="20" lengthAdjust="spacingAndGlyphs">NOAA</text>
</g>

</svg>
<div class="t" id="int">Intensity:</div>
<div class="lg" style="top:343px;background:#fff"></div><div class="t ll" style="top:347.9px">None</div>
<div class="lg" style="top:371px;background:#ffff00"></div><div class="t ll" style="top:375.9px">D0 Abnormally Dry</div>
<div class="lg" style="top:399px;background:#fcd37f"></div><div class="t ll" style="top:403.9px">D1 Moderate Drought</div>
<div class="lg" style="top:427px;background:#ffaa00"></div><div class="t ll" style="top:431.9px">D2 Severe Drought</div>
<div class="lg" style="top:455px;background:#e60000"></div><div class="t ll" style="top:459.9px">D3 Extreme Drought</div>
<div class="lg" style="top:483px;background:#730000"></div><div class="t ll" id="d4" style="top:487.9px">D4 Exceptional Drought</div>
<div class="t ds" id="desc1" style="top:523.6px;letter-spacing:0.40px">The Drought Monitor focuses on broad-scale</div>
<div class="t ds" id="desc2" style="top:538.5px;letter-spacing:0.38px">conditions. Local conditions may vary. For more</div>
<div class="t ds" id="desc3" style="top:553.4px;letter-spacing:0.37px">information on the Drought Monitor, go to</div>
<div class="t ds" id="desc4" style="top:568.3px;letter-spacing:0.38px">https://droughtmonitor.unl.edu/About.aspx</div>
<div class="t" id="auth">Author:</div>
<div class="t" id="rt">Richard Tinker</div>
<div class="t" id="cpc">CPC/NOAA/NWS/NCEP</div>
<div class="t" id="url">droughtmonitor.unl.edu</div>
</body></html>
